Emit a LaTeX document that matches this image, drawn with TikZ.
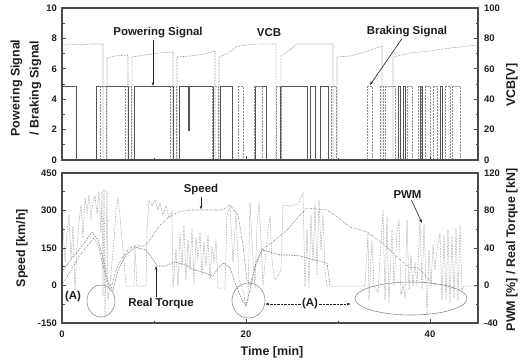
\documentclass[tikz,border=0pt]{standalone}
\usepackage{fontspec}
\setmainfont{Liberation Sans}
\usetikzlibrary{arrows.meta,shapes.geometric}

\definecolor{framegray}{HTML}{4A4A4A}
\definecolor{tracegray}{HTML}{8E8E8E}
\definecolor{inkgray}{HTML}{1E1E1E}

\begin{document}
\begin{tikzpicture}[x=1bp,y=-1bp,
    panelframe/.style={draw=framegray, line width=1.4bp},
    tickmark/.style={framegray, line width=0.7bp},
    ticklbl/.style={inkgray, font=\fontsize{9.5}{10}\selectfont\bfseries, inner sep=1bp},
    axlbl/.style={inkgray, font=\fontsize{12.5}{19}\selectfont\bfseries, rotate=90, align=center},
    plotlbl/.style={inkgray, font=\fontsize{11.5}{13}\selectfont\bfseries, inner sep=1bp},
    pointer/.style={-{Stealth[length=4bp,width=2.6bp]}, inkgray, line width=0.6bp},
    vcbline/.style={tracegray, line width=0.55bp, dash pattern=on 0.7bp off 0.8bp},
    powline/.style={tracegray!60!black, line width=0.6bp},
    brkline/.style={tracegray, line width=0.55bp, dash pattern=on 0.7bp off 0.8bp},
    speedline/.style={tracegray, line width=0.55bp, dash pattern=on 2bp off 1bp on 0.6bp off 1bp},
    torqueline/.style={tracegray!85!black, line width=0.55bp, dash pattern=on 1.6bp off 1bp},
    pwmline/.style={tracegray, line width=0.5bp, dash pattern=on 0.7bp off 0.9bp},
    markring/.style={draw=tracegray, line width=0.6bp, ellipse, inner sep=0pt}
  ]
  \useasboundingbox (0,0) rectangle (527,362);

  % VCB trace in the upper panel
  \draw[vcbline] plot coordinates {(62,45) (70,44) (80,45) (90,44) (103,44) (103,160) (107,160)
    (107,58) (115,56) (128,55) (128,160) (132,160) (132,57) (145,55) (160,53) (173,52) (173,160)
    (177,160) (177,57) (190,56) (205,54) (215,51) (215,160) (219,160) (219,57) (228,53) (236,47)
    (245,45) (260,44) (276,44) (276,160) (281,160) (281,56) (290,50) (297,44) (315,44) (333,44)
    (333,160) (337,160) (337,57) (350,56) (365,52) (382,46) (382,160) (393,160) (393,57) (410,53)
    (430,51) (450,48) (478,45)};

  % Powering signal pulses
  \draw[powline] plot coordinates {(62,86) (76,86) (76,160) (96,160) (96,86) (128,86) (128,160)
    (134,160) (134,86) (173,86) (173,160) (179,160) (179,86) (188,86) (188,130) (189,130) (189,86)
    (213,86) (213,160) (220,160) (220,86) (232,86) (232,160) (255,160) (255,86) (266,86) (266,160)
    (280,160) (280,86) (307,86) (307,160) (310,160) (310,86) (315,86) (315,160) (320,160) (320,86)
    (328,86) (328,160)};
  \foreach \a/\b in {398/400, 403/405, 420/422, 440/442}
    \draw[powline] (\a,160) -- (\a,86) -- (\b,86) -- (\b,160);

  % Braking signal pulses
  \foreach \a/\b in {100/106, 125/131, 170/176, 212/218, 238/243, 254/262, 276/281, 331/336,
                     367/372, 380/383, 385/395, 407/412, 418/421, 425/430, 433/437, 445/450, 452/460}
    \draw[brkline] (\a,160) -- (\a,86) -- (\b,86) -- (\b,160);

  % Speed trace in the lower panel
  \draw[speedline] plot coordinates {(62,285) (70,272) (80,255) (88,245) (94,238) (98,245) (103,265)
    (108,285) (112,285) (116,270) (122,258) (128,250) (133,246) (145,246) (150,240) (155,232)
    (160,225) (168,218) (178,212) (190,210) (222,210) (230,205) (238,215) (243,245) (247,280)
    (250,285) (255,268) (262,250) (275,240) (287,230) (300,215) (307,208) (327,210) (335,215)
    (350,227) (367,232) (385,245) (397,257) (410,268) (417,267) (425,275) (432,283) (436,285)};

  % Real torque trace
  \draw[torqueline] plot coordinates {(62,272) (72,258) (82,246) (92,232) (98,240) (104,262)
    (108,282) (113,290) (118,270) (126,255) (135,247) (146,250) (152,258) (157,266) (165,266)
    (175,262) (185,265) (195,270) (205,273) (213,276) (218,268) (224,263) (230,268) (236,285)
    (242,300) (246,305) (250,290) (256,262) (262,250) (270,252) (280,255) (290,255) (300,256)
    (315,260) (327,263) (330,285)};

  % PWM trace
  \draw[pwmline] plot coordinates {(62,245) (63,228) (65,262) (67,232) (69,215) (71,258) (73,226)
    (75,290) (77,248) (79,222) (81,205) (83,238) (85,198) (87,212) (89,195) (91,218) (93,202)
    (95,196) (97,214) (99,192) (101,232) (102,191) (103,296) (104,189) (105,318) (107,191)
    (108,300) (110,285) (112,262) (114,240) (116,210) (118,198) (120,215) (122,240) (124,262)
    (126,286) (134,286) (135,248) (137,286) (146,286) (147,230) (149,200) (152,206) (155,200)
    (158,210) (160,203) (163,215) (166,205) (169,218) (172,212) (173,287) (176,250) (178,286)
    (180,232) (182,268) (184,225) (186,280) (188,240) (190,270) (192,228) (194,284) (196,238)
    (198,260) (200,232) (202,275) (204,242) (206,266) (208,235) (210,280) (212,246) (214,262)
    (216,240) (218,288) (225,288) (227,215) (230,207) (233,262) (236,212) (239,280) (242,288)
    (244,296) (246,307) (248,300) (250,203) (253,260) (255,288) (257,225) (259,203) (261,240)
    (263,285) (265,262) (268,230) (270,215) (272,260) (275,280) (278,275) (281,270) (283,205)
    (290,206) (298,204) (303,193) (305,287) (307,230) (309,288) (311,215) (313,262) (315,205)
    (317,275) (319,200) (321,250) (323,215) (325,270) (327,286) (365,286) (368,233) (369,300)
    (372,240) (374,286) (378,292) (383,210) (385,300) (387,217) (389,303) (392,230) (394,286)
    (397,232) (399,220) (401,295) (403,286) (405,297) (407,220) (409,290) (411,255) (413,286)
    (415,262) (417,286) (420,220) (422,290) (424,225) (427,315) (429,250) (431,286) (433,245)
    (435,270) (437,250) (440,233) (442,300) (444,235) (446,300) (448,230) (450,303) (452,235)
    (454,298) (456,228) (458,300) (460,225) (462,290) (464,286) (478,286)};

  % Panel frames
  \draw[panelframe] (62,8) rectangle (478,160);
  \draw[panelframe] (62,173) rectangle (478,323);

  % Tick marks, upper panel
  \foreach \k in {0,...,10}{
    \pgfmathsetmacro{\yy}{160-15.2*\k}
    \pgfmathsetmacro{\len}{ifthenelse(mod(\k,2)==0,4,2.5)}
    \draw[tickmark] (62,\yy) -- ++(\len,0);
    \draw[tickmark] (478,\yy) -- ++(-\len,0);
  }
  % Tick marks, lower panel
  \foreach \k in {0,...,8}{
    \pgfmathsetmacro{\yy}{323-18.75*\k}
    \pgfmathsetmacro{\len}{ifthenelse(mod(\k,2)==0,4,2.5)}
    \draw[tickmark] (62,\yy) -- ++(\len,0);
    \draw[tickmark] (478,\yy) -- ++(-\len,0);
  }
  % Time ticks on both panels
  \foreach \k in {1,...,4}{
    \pgfmathsetmacro{\xx}{62+92*\k}
    \pgfmathsetmacro{\len}{ifthenelse(mod(\k,2)==0,4,2.5)}
    \draw[tickmark] (\xx,160) -- ++(0,-\len);
    \draw[tickmark] (\xx,323) -- ++(0,-\len);
  }

  % Tick labels
  \foreach \v in {0,2,...,10}
    \node[ticklbl, anchor=east] at (58,{160-15.2*\v}) {\v};
  \foreach \v in {0,20,...,100}
    \node[ticklbl, anchor=west] at (483,{160-1.52*\v}) {\v};
  \foreach \v in {-150,0,150,300,450}
    \node[ticklbl, anchor=east] at (58,{285.5-0.25*\v}) {\v};
  \foreach \v in {-40,0,40,80,120}
    \node[ticklbl, anchor=west] at (483,{285.5-0.9375*\v}) {\v};
  \foreach \t in {0,20,40}
    \node[ticklbl] at ({62+9.2*\t},334) {\t};

  % Axis titles
  \node[axlbl] (sigax) at (26,88) {Powering Signal\\/ Braking Signal};
  \node[axlbl] (vcbax) at (512,85) {VCB[V]};
  \node[axlbl] (spdax) at (22,248) {Speed [km/h]};
  \node[axlbl] (pwmax) at (512,250) {PWM [\%] / Real Torque [kN]};
  \node[inkgray, font=\fontsize{12.5}{14}\selectfont\bfseries] (timeax) at (272,352) {Time [min]};

  % Trace labels and pointers
  \node[plotlbl] (powlbl) at (158,33) {Powering Signal};
  \coordinate (powtip) at (153,86);
  \draw[pointer] (powlbl.south -| powtip) -- (powtip);

  \node[plotlbl] (vcblbl) at (269,33) {VCB};

  \node[plotlbl] (brklbl) at (407,32) {Braking Signal};
  \coordinate (brktip) at (370,85);
  \draw[pointer] ([xshift=-5bp]brklbl.south) -- (brktip);

  \node[plotlbl] (spdlbl) at (201,190) {Speed};
  \coordinate (spdtip) at (201,209.5);
  \draw[pointer] (spdlbl.south) -- (spdtip);

  \node[plotlbl] (trqlbl) at (161,304) {Real Torque};
  \coordinate (trqtip) at (156,266);
  \draw[pointer] (trqlbl.north -| trqtip) -- (trqtip);

  \node[plotlbl] (pwmlbl) at (407.5,195) {PWM};
  \coordinate (pwmtip) at (422,223);
  \draw[pointer] ([xshift=4bp]pwmlbl.south) -- (pwmtip);

  % Marked regions (A)
  \node[markring, minimum width=28bp, minimum height=32bp] (ringa) at (101,301) {};
  \node[markring, minimum width=33bp, minimum height=35bp] (ringb) at (248.5,300.5) {};
  \node[markring, minimum width=112bp, minimum height=33bp] (ringc) at (411,298.5) {};
  \node[plotlbl] (alft) at (73,297) {(A)};
  \node[plotlbl] (amid) at (310,304) {(A)};
  \draw[pointer, dash pattern=on 2.5bp off 1bp] (amid.west) -- (amid.west -| ringb.east);
  \draw[pointer, dash pattern=on 2.5bp off 1bp, shorten >=4bp] (amid.east) -- (amid.east -| ringc.west);
\end{tikzpicture}
\end{document}
